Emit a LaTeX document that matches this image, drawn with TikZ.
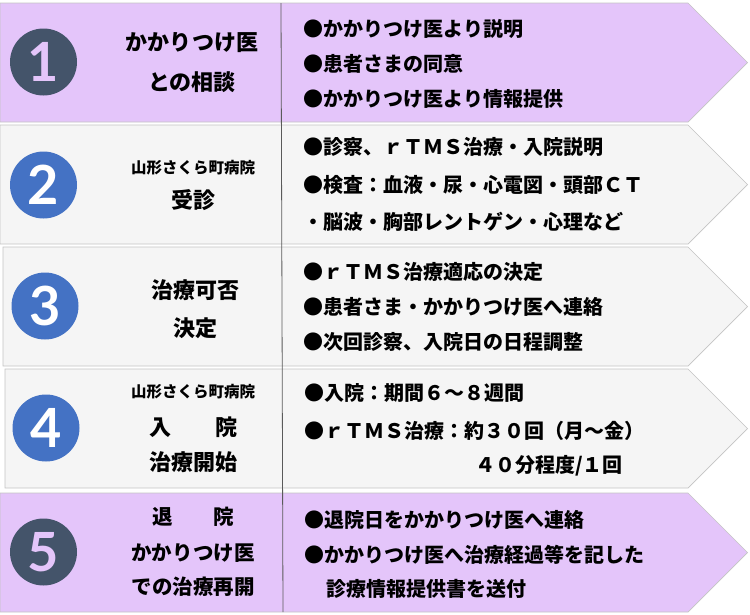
\documentclass[tikz,border=0pt]{standalone}
\usepackage{fontspec}
\newfontfamily\jp{Noto Sans CJK JP}
\newfontfamily\chiffre{Lato}
\usetikzlibrary{positioning}
\definecolor{colViolet}{RGB}{228,197,250}
\definecolor{colArdoise}{RGB}{68,84,106}
\definecolor{colBleu}{RGB}{68,114,196}
\definecolor{colFond}{RGB}{245,245,245}
\definecolor{colBord}{RGB}{196,196,196}
\definecolor{colSep}{RGB}{90,90,90}

\begin{document}
\begin{tikzpicture}[x=1pt, y=-1pt, on grid,
    rond/.style={circle, minimum size=67pt, inner sep=0pt,
      font=\chiffre\bfseries\fontsize{54}{54}\selectfont},
    titre/.style={inner sep=0pt, font=\jp\bfseries\fontsize{22}{24}\selectfont},
    titrep/.style={inner sep=0pt, font=\jp\bfseries\fontsize{20.5}{22}\selectfont},
    soustitre/.style={inner sep=0pt,
      font=\jp\bfseries\fontsize{15.5}{17}\selectfont},
    puce/.style={anchor=west, inner sep=0pt,
      font=\jp\bfseries\fontsize{20}{22}\selectfont}]
  \useasboundingbox (0,0) rectangle (750,614);
  % bandeaux
  \foreach \haut/\bas/\gauche/\coul in {3/122/0/colViolet, 125/244/0/colFond,
      247/366/3/colFond, 369/488/5/colFond, 493/612/0/colViolet}{
    \pgfmathsetmacro{\milieu}{(\haut+\bas)/2}
    \pgfmathsetmacro{\pointe}{688+(\bas-\haut)/2}
    \draw[fill=\coul, draw=colBord, line width=0.7pt] (\gauche,\haut)
      -- (688,\haut) -- (\pointe,\milieu) -- (688,\bas) -- (\gauche,\bas)
      -- cycle;
  }
  \coordinate (sepHaut) at (281,3);
  \coordinate (sepBas) at (283,612);
  \draw[colSep, line width=0.8pt] (sepHaut) -- (sepBas);
  % numeros
  \node[rond, fill=colArdoise, text=colViolet] (n1) at (43.5,62) {1};
  \node[rond, fill=colBleu, text=white] (n2) at (43.5,185) {2};
  \node[rond, fill=colBleu, text=white] (n3) at (45,306) {3};
  \node[rond, fill=colBleu, text=white] (n4) at (46,428) {4};
  \node[rond, fill=colArdoise, text=colViolet] (n5) at (43.5,552) {5};
  % colonne gauche
  \node[titre] (g1a) at (192,43) {かかりつけ医};
  \node[titre, below=39pt of g1a] (g1b) {との相談};
  \node[soustitre] (g2a) at (193,168) {山形さくら町病院};
  \node[titre, below=32pt of g2a] (g2b) {受診};
  \node[titre] (g3a) at (195,290) {治療可否};
  \node[titre, below=38pt of g3a] (g3b) {決定};
  \node[soustitre] (g4a) at (193,392) {山形さくら町病院};
  \node[titre, below=35pt of g4a] (g4b) {入　　院};
  \node[titre, below=35pt of g4b] (g4c) {治療開始};
  \node[titrep] (g5a) at (193,517) {退　　院};
  \node[titrep, below=36pt of g5a] (g5b) {かかりつけ医};
  \node[titrep, below=34pt of g5b] (g5c) {での治療再開};
  % colonne droite
  \node[puce] (d1a) at (303,29) {●かかりつけ医より説明};
  \node[puce, below=35pt of d1a.west, anchor=west] (d1b) {●患者さまの同意};
  \node[puce, below=35pt of d1b.west, anchor=west] (d1c)
    {●かかりつけ医より情報提供};
  \node[puce] (d2a) at (303,147) {●診察、ｒＴＭＳ治療・入院説明};
  \node[puce, below=37.5pt of d2a.west, anchor=west] (d2b)
    {●検査：血液・尿・心電図・頭部ＣＴ};
  \node[puce, below=37.5pt of d2b.west, anchor=west] (d2c)
    {・脳波・胸部レントゲン・心理など};
  \node[puce] (d3a) at (303,272) {●ｒＴＭＳ治療適応の決定};
  \node[puce, below=35pt of d3a.west, anchor=west] (d3b)
    {●患者さま・かかりつけ医へ連絡};
  \node[puce, below=35pt of d3b.west, anchor=west] (d3c)
    {●次回診察、入院日の日程調整};
  \node[puce] (d4a) at (304,393) {●入院：期間６～８週間};
  \node[puce, below=37.5pt of d4a.west, anchor=west] (d4b)
    {●ｒＴＭＳ治療：約３０回（月～金）};
  \node[puce] (d4c) at (475,466) {４０分程度/１回};
  \node[puce] (d5a) at (304,520) {●退院日をかかりつけ医へ連絡};
  \node[puce, below=35pt of d5a.west, anchor=west] (d5b)
    {●かかりつけ医へ治療経過等を記した};
  \node[puce] (d5c) at (326,589) {診療情報提供書を送付};
\end{tikzpicture}
\end{document}
